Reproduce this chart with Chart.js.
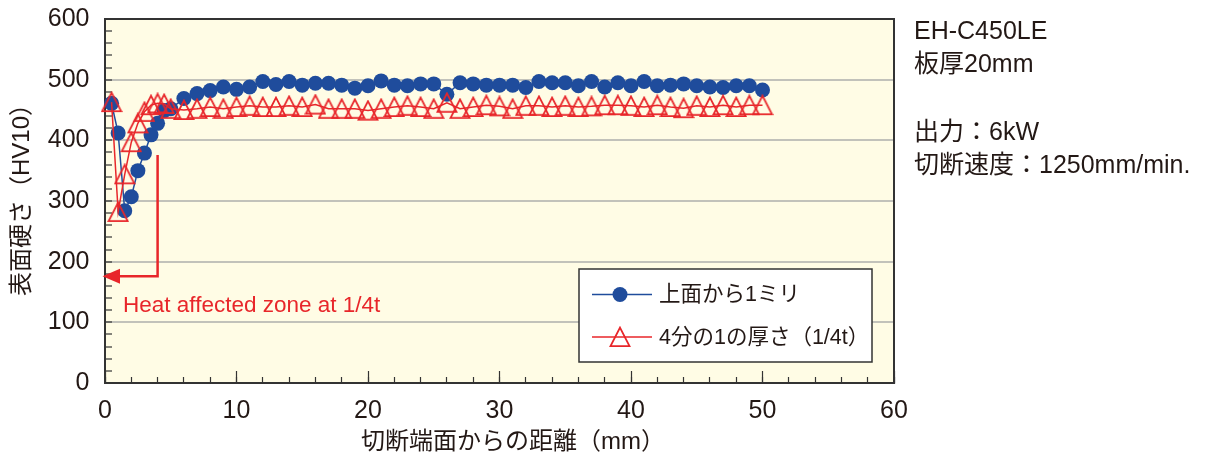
<!DOCTYPE html>
<html>
<head>
<meta charset="utf-8">
<style>
html,body{margin:0;padding:0;background:#ffffff;}
#wrap{width:1208px;height:456px;position:relative;}
</style>
<script src="https://cdn.jsdelivr.net/npm/chart.js@4.4.1/dist/chart.umd.min.js"></script>
</head>
<body>
<div id="wrap"><canvas id="c" width="1208" height="456"></canvas></div>
<script>
// ---------------- data ----------------
const distances = [0.5,1,1.5,2,2.5,3,3.5,4,4.5,5,
  6,7,8,9,10,11,12,13,14,15,16,17,18,19,20,21,22,23,24,25,26,27,28,29,30,
  31,32,33,34,35,36,37,38,39,40,41,42,43,44,45,46,47,48,49,50];
const topSurface1mm = [461,412,284,307,350,379,409,428,449,452,
  469,477,482,488,484,488,497,492,497,491,494,494,491,486,490,498,491,490,493,493,476,495,493,491,491,
  491,487,497,495,495,490,497,488,495,490,497,490,491,493,490,488,487,490,490,483];
const quarterThickness = [463,282,344,397,428,447,458,461,460,452,
  450,452,455,452,455,457,455,455,457,455,459,452,452,452,449,452,455,457,455,452,462,452,455,458,456,
  452,457,457,455,457,455,456,458,458,457,455,458,455,453,457,455,458,455,458,458];
const seriesLabels = ['上面から1ミリ', '4分の1の厚さ（1/4t）'];
const xTickLabels = [0,10,20,30,40,50,60];
const yTickLabels = [0,100,200,300,400,500,600];
const xTitle = '切断端面からの距離（mm）';
const yTitle = '表面硬さ（HV10）';
const notes = ['EH-C450LE', '板厚20mm', '', '出力：6kW', '切断速度：1250mm/min.'];
const annotationText = 'Heat affected zone at 1/4t';
const hazDistance = 4;      // mm, where the marker line drops
const hazTop = 376;         // HV, top of the vertical marker line
const hazLevel = 176;       // HV, level of the arrow

// ---------------- styles ----------------
const BLUE = '#1f4c9c';
const RED = '#e8262a';
const TEXT = '#231815';
const PLOT_BG = '#fffce5';
const FRAME = '#333333';
const GRID = '#c2c2ba';
const LATIN = '"Liberation Sans", "Noto Sans CJK JP", sans-serif';

function makeTriangle() {
  const cv = document.createElement('canvas');
  cv.width = 22; cv.height = 22;
  const g = cv.getContext('2d');
  g.strokeStyle = RED; g.lineWidth = 1.8; g.lineJoin = 'miter';
  g.beginPath();
  g.moveTo(11, 1.6); g.lineTo(20.5, 20.2); g.lineTo(1.5, 20.2); g.closePath();
  g.stroke();
  return cv;
}
const triImg = makeTriangle();

const deco = {
  id: 'deco',
  beforeDraw(chart) {
    const {ctx, chartArea: a} = chart;
    ctx.save();
    ctx.fillStyle = PLOT_BG;
    ctx.fillRect(a.left, a.top, a.right - a.left, a.bottom - a.top);
    ctx.restore();
  },
  beforeDatasetsDraw(chart) {
    const {ctx, chartArea: a} = chart;
    ctx.save();
    ctx.strokeStyle = FRAME; ctx.lineWidth = 2;
    ctx.beginPath();
    ctx.moveTo(a.left, a.top); ctx.lineTo(a.right, a.top); ctx.lineTo(a.right, a.bottom);
    ctx.stroke();
    ctx.restore();
  },
  afterDatasetsDraw(chart) {
    const {ctx} = chart;
    const xs = chart.scales.x, ys = chart.scales.y;
    const px = xs.getPixelForValue(hazDistance);
    const pt = ys.getPixelForValue(hazTop);
    const pl = ys.getPixelForValue(hazLevel);
    const p0 = xs.getPixelForValue(0);
    ctx.save();
    ctx.strokeStyle = RED; ctx.lineWidth = 2.5;
    ctx.beginPath();
    ctx.moveTo(px, pt); ctx.lineTo(px, pl); ctx.lineTo(p0 + 12, pl);
    ctx.stroke();
    ctx.fillStyle = RED;
    ctx.beginPath();
    ctx.moveTo(p0 - 2.5, pl); ctx.lineTo(p0 + 15, pl - 7.5); ctx.lineTo(p0 + 15, pl + 7.5); ctx.closePath();
    ctx.fill();
    ctx.font = '22.5px ' + LATIN;
    ctx.textAlign = 'left'; ctx.textBaseline = 'alphabetic';
    ctx.fillText(annotationText, 123, 311.5);
    ctx.restore();
  },
  afterDraw(chart) {
    const {ctx} = chart;
    ctx.save();
    // legend
    ctx.fillStyle = '#ffffff';
    ctx.fillRect(579, 269, 293, 93);
    ctx.strokeStyle = FRAME; ctx.lineWidth = 1.5;
    ctx.strokeRect(579, 269, 293, 93);
    const rows = [294.5, 337];
    ctx.strokeStyle = BLUE; ctx.lineWidth = 1.5;
    ctx.beginPath(); ctx.moveTo(592, rows[0]); ctx.lineTo(652, rows[0]); ctx.stroke();
    ctx.fillStyle = BLUE;
    ctx.beginPath(); ctx.arc(620, rows[0], 7.5, 0, Math.PI * 2); ctx.fill();
    ctx.strokeStyle = RED; ctx.lineWidth = 1.5;
    ctx.beginPath(); ctx.moveTo(592, rows[1]); ctx.lineTo(652, rows[1]); ctx.stroke();
    ctx.drawImage(triImg, 620 - 11, rows[1] - 11);
    ctx.fillStyle = TEXT;
    ctx.font = '21.5px ' + LATIN;
    ctx.textAlign = 'left'; ctx.textBaseline = 'middle';
    ctx.fillText(seriesLabels[0], 659, rows[0] + 1);
    ctx.fillText(seriesLabels[1], 659, rows[1] + 1);

    // axis titles
    ctx.font = '24px ' + LATIN;
    ctx.textAlign = 'left'; ctx.textBaseline = 'middle';
    ctx.fillText(xTitle, 361, 442);
    ctx.save();
    ctx.translate(22, 200);
    ctx.rotate(-Math.PI / 2);
    ctx.textAlign = 'center';
    ctx.fillText(yTitle, 6, 0);
    ctx.restore();

    // notes
    ctx.font = '25px ' + LATIN;
    ctx.textAlign = 'left'; ctx.textBaseline = 'alphabetic';
    const base = [38.5, 71.5, 105, 139.5, 172.5];
    notes.forEach((t, i) => { if (t) ctx.fillText(t, 914, base[i]); });
    ctx.restore();
  }
};

function noPad(s) { s.paddingTop = 0; s.paddingBottom = 0; s.paddingLeft = 0; s.paddingRight = 0; }

const chart = new Chart(document.getElementById('c'), {
  type: 'line',
  data: {
    datasets: [
      {
        label: seriesLabels[0],
        data: distances.map((d, i) => ({x: d, y: topSurface1mm[i]})),
        borderColor: BLUE, borderWidth: 1.5,
        pointStyle: 'circle', pointRadius: 7.5, pointHoverRadius: 7.5,
        pointBackgroundColor: BLUE, pointBorderColor: BLUE, pointBorderWidth: 0,
        tension: 0, clip: false, order: 1
      },
      {
        label: seriesLabels[1],
        data: distances.map((d, i) => ({x: d, y: quarterThickness[i]})),
        borderColor: RED, borderWidth: 1.5,
        pointStyle: triImg, pointRadius: 10, pointHoverRadius: 10,
        tension: 0, clip: false, order: 0
      }
    ]
  },
  options: {
    responsive: false,
    animation: false,
    devicePixelRatio: 1,
    layout: { padding: { top: 19, right: 314, bottom: 0, left: 0 } },
    plugins: { legend: { display: false }, tooltip: { enabled: false } },
    scales: {
      x: {
        type: 'linear', position: 'bottom', min: 0, max: 60, weight: 0,
        ticks: {
          stepSize: 2, autoSkip: false, maxRotation: 0, padding: 19,
          color: TEXT, font: { size: 25, family: LATIN },
          callback: v => xTickLabels.includes(v) ? String(v) : ''
        },
        grid: { drawOnChartArea: false, tickColor: FRAME, tickLength: -6, tickWidth: 1.2 },
        border: { display: true, color: FRAME, width: 2 },
        afterFit: s => { s.height = 73; noPad(s); }
      },
      x2: {
        type: 'linear', position: 'bottom', min: 0, max: 60, weight: -5,
        ticks: { stepSize: 10, display: false },
        grid: { drawOnChartArea: false, tickColor: FRAME, tickLength: -12, tickWidth: 1.2 },
        border: { display: false },
        afterFit: s => { s.height = 0; noPad(s); }
      },
      y: {
        type: 'linear', position: 'left', min: 0, max: 600,
        ticks: {
          stepSize: 20, autoSkip: false, padding: 22.5,
          color: TEXT, font: { size: 25, family: LATIN },
          callback: v => yTickLabels.includes(v) ? String(v) : ''
        },
        grid: {
          color: c => (c.tick && c.tick.value % 100 === 0 && c.tick.value > 0 && c.tick.value < 600) ? GRID : 'rgba(0,0,0,0)',
          lineWidth: 2, tickColor: FRAME, tickLength: -7, tickWidth: 1.2
        },
        border: { display: true, color: FRAME, width: 2 },
        afterFit: s => { s.width = 105; noPad(s); }
      }
    }
  },
  plugins: [deco]
});
</script>
</body>
</html>
